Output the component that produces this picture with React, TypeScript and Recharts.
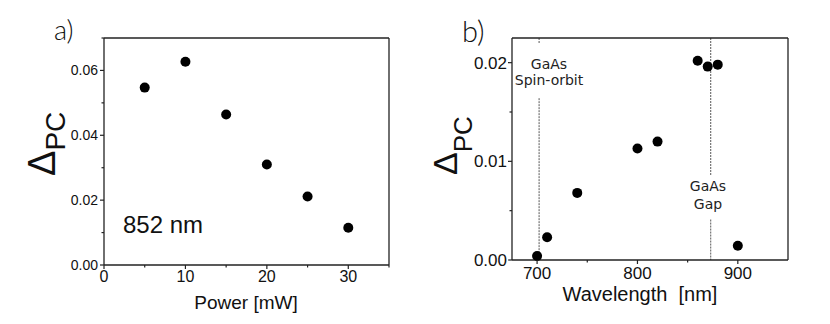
import React from 'react';
import { ScatterChart, Scatter, XAxis, YAxis, ReferenceLine } from 'recharts';

// ---------- Panel a) data ----------
const powerMW = [5, 10, 15, 20, 25, 30];
const deltaPCa = [0.0547, 0.0627, 0.0464, 0.031, 0.0211, 0.0115];
const aXTicks = [0, 5, 10, 15, 20, 25, 30, 35];
const aXMajor = [0, 10, 20, 30];
const aYTicks = [0, 0.01, 0.02, 0.03, 0.04, 0.05, 0.06, 0.07];
const aYMajor = [0, 0.02, 0.04, 0.06];

// ---------- Panel b) data ----------
const wavelengthNm = [700, 710, 740, 800, 820, 860, 870, 880, 900];
const deltaPCb = [0.0004, 0.0023, 0.0068, 0.0113, 0.012, 0.0202, 0.0196, 0.0198, 0.00145];
const bXTicks = [700, 750, 800, 850, 900];
const bXMajor = [700, 800, 900];
const bYTicks = [0, 0.005, 0.01, 0.015, 0.02];
const bYMajor = [0, 0.01, 0.02];

// annotation lines (wavelength, and y-extents of visible segments)
const spinOrbitNm = 702;
const gapNm = 873;
const spinOrbitSegments = [[0.0225, 0.0219], [0.0164, 0]];
const gapSegments = [[0.0225, 0.0086], [0.0041, 0]];

const dataA = powerMW.map((p, i) => ({ x: p, y: deltaPCa[i] }));
const dataB = wavelengthNm.map((w, i) => ({ x: w, y: deltaPCb[i] }));

const AXIS = '#222';
const FONT = '"Liberation Sans", Arial, sans-serif';

type Side = 'bottom' | 'top' | 'left' | 'right';

const makeTick = (side: Side, majors: number[], fmt: ((v: number) => string) | null, fontSize: number, labelOff: number) =>
  (props: any) => {
    const { x, y, payload } = props;
    const v = payload.value;
    const major = majors.includes(v);
    const len = major ? 4 : 2.5;
    let x2 = x, y2 = y;
    if (side === 'bottom') y2 = y + len;
    if (side === 'top') y2 = y + len;
    if (side === 'left') x2 = x - len;
    if (side === 'right') x2 = x - len;
    return (
      <g>
        <line x1={x} y1={y} x2={x2} y2={y2} stroke={AXIS} strokeWidth={1.2} />
        {fmt && major && side === 'bottom' && (
          <text x={x} y={y + labelOff} textAnchor="middle" fontSize={fontSize} fontFamily={FONT} fill="#111">
            {fmt(v)}
          </text>
        )}
        {fmt && major && side === 'left' && (
          <text x={x - labelOff} y={y} dy="0.36em" textAnchor="end" fontSize={fontSize} fontFamily={FONT} fill="#111">
            {fmt(v)}
          </text>
        )}
      </g>
    );
  };

const dot = (props: any) => <circle cx={props.cx} cy={props.cy} r={5} fill="#000" />;

const axisLine = { stroke: AXIS, strokeWidth: 1.3 };

export default function App() {
  return (
    <div style={{ position: 'absolute', left: 0, top: 0, width: 830, height: 324, background: '#fff' }}>
      <div style={{ position: 'absolute', left: 0, top: 0 }}>
        <ScatterChart width={415} height={324} margin={{ top: 37, left: 103, right: 25, bottom: 58 }}>
          <XAxis xAxisId="b" type="number" dataKey="x" domain={[0, 35]} ticks={aXTicks} interval={0}
            height={1} tickSize={0} tickMargin={0} tickLine={false} axisLine={axisLine}
            tick={makeTick('bottom', aXMajor, (v) => String(v), 16, 17)} />
          <XAxis xAxisId="t" orientation="top" type="number" domain={[0, 35]} ticks={aXTicks} interval={0}
            height={1} tickSize={0} tickMargin={0} tickLine={false} axisLine={axisLine}
            tick={makeTick('top', aXMajor, null, 16, 0)} />
          <YAxis yAxisId="l" type="number" dataKey="y" domain={[0, 0.07]} ticks={aYTicks} interval={0}
            width={1} tickSize={0} tickMargin={0} tickLine={false} axisLine={axisLine}
            tick={makeTick('left', aYMajor, (v) => v.toFixed(2), 14, 6)} />
          <YAxis yAxisId="r" orientation="right" type="number" domain={[0, 0.07]} ticks={aYTicks} interval={0}
            width={1} tickSize={0} tickMargin={0} tickLine={false} axisLine={axisLine}
            tick={makeTick('right', aYMajor, null, 14, 0)} />
          <Scatter xAxisId="b" yAxisId="l" data={dataA} shape={dot} isAnimationActive={false} />
        </ScatterChart>
      </div>
      <div style={{ position: 'absolute', left: 415, top: 0 }}>
        <ScatterChart width={415} height={324} margin={{ top: 37, left: 96, right: 41, bottom: 63 }}>
          <XAxis xAxisId="b" type="number" dataKey="x" domain={[675, 950]} ticks={bXTicks} interval={0}
            height={1} tickSize={0} tickMargin={0} tickLine={false} axisLine={axisLine}
            tick={makeTick('bottom', bXMajor, (v) => String(v), 17, 19)} />
          <XAxis xAxisId="t" orientation="top" type="number" domain={[675, 950]} ticks={bXTicks} interval={0}
            height={1} tickSize={0} tickMargin={0} tickLine={false} axisLine={axisLine}
            tick={makeTick('top', bXMajor, null, 17, 0)} />
          <YAxis yAxisId="l" type="number" dataKey="y" domain={[0, 0.0225]} ticks={bYTicks} interval={0}
            width={1} tickSize={0} tickMargin={0} tickLine={false} axisLine={axisLine}
            tick={makeTick('left', bYMajor, (v) => v.toFixed(2), 17, 5)} />
          <YAxis yAxisId="r" orientation="right" type="number" domain={[0, 0.0225]} ticks={bYTicks} interval={0}
            width={1} tickSize={0} tickMargin={0} tickLine={false} axisLine={axisLine}
            tick={makeTick('right', bYMajor, null, 17, 0)} />
          {spinOrbitSegments.map((s, i) => (
            <ReferenceLine key={'so' + i} xAxisId="b" yAxisId="l"
              segment={[{ x: spinOrbitNm, y: s[0] }, { x: spinOrbitNm, y: s[1] }]}
              stroke="#444" strokeWidth={0.9} strokeDasharray="2 1" ifOverflow="visible" />
          ))}
          {gapSegments.map((s, i) => (
            <ReferenceLine key={'g' + i} xAxisId="b" yAxisId="l"
              segment={[{ x: gapNm, y: s[0] }, { x: gapNm, y: s[1] }]}
              stroke="#444" strokeWidth={0.9} strokeDasharray="2 1" ifOverflow="visible" />
          ))}
          <Scatter xAxisId="b" yAxisId="l" data={dataB} shape={dot} isAnimationActive={false} />
        </ScatterChart>
      </div>
      <svg width={830} height={324} style={{ position: 'absolute', left: 0, top: 0, pointerEvents: 'none' }}>
        <text x={54} y={40} fontSize={27} fontFamily='Lato, "DejaVu Sans", sans-serif' fontWeight={300} fill="#111">a)</text>
        <text x={462} y={42} fontSize={29} fontFamily='Lato, "DejaVu Sans", sans-serif' fontWeight={300} fill="#111">b)</text>
        <text x={123} y={233} fontSize={24} fontFamily={FONT} fill="#111">852 nm</text>
        <text x={246} y={309} fontSize={19} fontFamily={FONT} textAnchor="middle" fill="#111">Power [mW]</text>
        <text x={640} y={301} fontSize={20} fontFamily={FONT} textAnchor="middle" fill="#111" style={{ whiteSpace: 'pre' }}>Wavelength  [nm]</text>
        <g transform="translate(55,176) rotate(-90)">
          <text x={0} y={0} fontFamily={FONT} fill="#111">
            <tspan fontSize={38}>Δ</tspan>
            <tspan fontSize={28} dy={10}>PC</tspan>
          </text>
        </g>
        <g transform="translate(457,175) rotate(-90)">
          <text x={0} y={0} fontFamily={FONT} fill="#111">
            <tspan fontSize={34}>Δ</tspan>
            <tspan fontSize={26} dy={15}>PC</tspan>
          </text>
        </g>
        <g fontFamily='"DejaVu Sans", sans-serif' fontSize={14} fill="#222" textAnchor="middle">
          <text x={549} y={69}>GaAs</text>
          <text x={549} y={85}>Spin-orbit</text>
          <text x={708} y={191}>GaAs</text>
          <text x={708} y={209}>Gap</text>
        </g>
      </svg>
    </div>
  );
}
